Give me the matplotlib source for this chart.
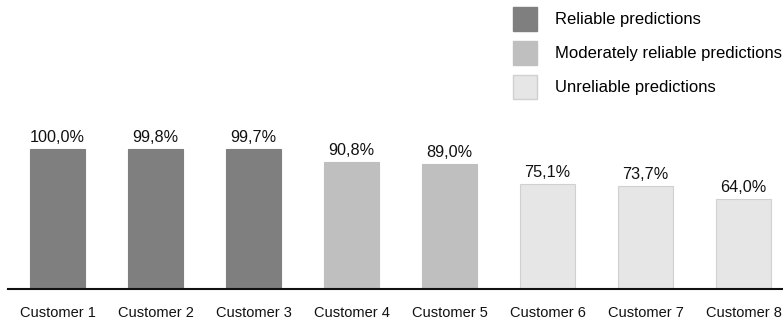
import matplotlib.pyplot as plt
from matplotlib.patches import Patch

customers = ['Customer 1', 'Customer 2', 'Customer 3', 'Customer 4',
             'Customer 5', 'Customer 6', 'Customer 7', 'Customer 8']
accuracy = [100.0, 99.8, 99.7, 90.8, 89.0, 75.1, 73.7, 64.0]
groups = ['Reliable', 'Reliable', 'Reliable', 'Moderate', 'Moderate',
          'Unreliable', 'Unreliable', 'Unreliable']

group_colors = {'Reliable': '#7f7f7f', 'Moderate': '#bfbfbf', 'Unreliable': '#e6e6e6'}
group_labels = {'Reliable': 'Reliable predictions',
                'Moderate': 'Moderately reliable predictions',
                'Unreliable': 'Unreliable predictions'}

plt.rcParams['font.family'] = ['Liberation Sans', 'DejaVu Sans']


def edge_for(g):
    return '#d0d0d0' if g == 'Unreliable' else group_colors[g]


def plot_graph():
    fig = plt.figure(figsize=(7.83, 3.25), dpi=100)
    W, H = 783, 325
    ax = fig.add_axes([8 / W, (H - 289) / H, (W - 8) / W, 289 / H])

    x = list(range(len(customers)))
    colors = [group_colors[g] for g in groups]
    edges = [edge_for(g) for g in groups]
    bars = ax.bar(x, accuracy, width=0.56, color=colors, edgecolor=edges, linewidth=0.8)

    for bar, v in zip(bars, accuracy):
        ax.text(bar.get_x() + bar.get_width() / 2, v + 3,
                f'{v:.1f}%'.replace('.', ','), ha='center', va='bottom',
                fontsize=11.7, color='#111111')

    ax.set_xlim(-0.505, 7.403)
    ax.set_ylim(0, 206.4)
    ax.set_xticks(x)
    ax.set_xticklabels(customers, fontsize=10.5, color='#111111')
    ax.tick_params(axis='x', length=0, pad=12)
    ax.set_yticks([])
    for side in ['top', 'right', 'left']:
        ax.spines[side].set_visible(False)
    ax.spines['bottom'].set_linewidth(1.5)
    ax.spines['bottom'].set_color('#111111')

    handles = [Patch(facecolor=group_colors[k], edgecolor=edge_for(k), label=group_labels[k])
               for k in ['Reliable', 'Moderate', 'Unreliable']]
    fig.legend(handles=handles, loc='upper left', bbox_to_anchor=(506 / W, 1.0),
               frameon=False, fontsize=12, handlelength=1.45, handleheight=1.85,
               handletextpad=1.1, labelspacing=0.6, borderaxespad=0.0)

    fig.savefig('out.png', dpi=100)


if __name__ == '__main__':
    plot_graph()
